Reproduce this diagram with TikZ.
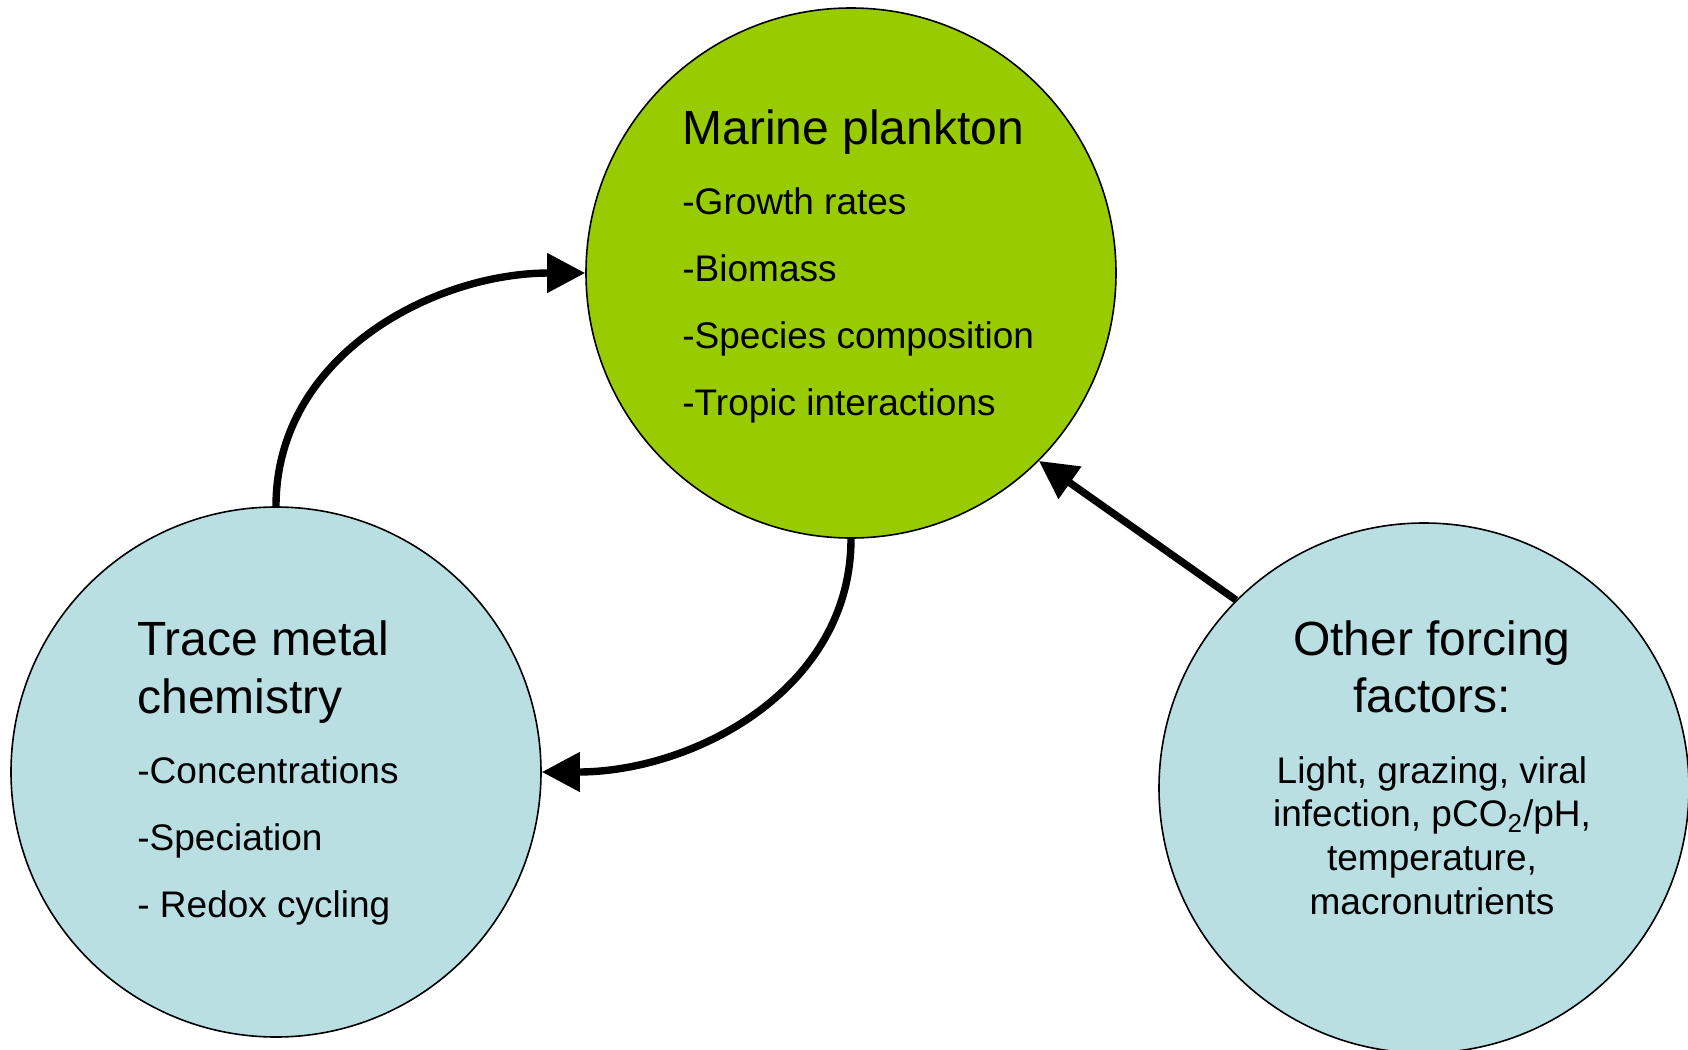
\documentclass[tikz,border=0pt]{standalone}
\usepackage{fontspec}
\setmainfont{Liberation Sans}
\usetikzlibrary{arrows.meta}

\definecolor{planktongreen}{RGB}{153,204,0}
\definecolor{paleblue}{RGB}{185,223,227}

\begin{document}
\begin{tikzpicture}[x=0.5pt,y=0.5pt,
  bubble/.style={circle,draw=black,line width=0.8pt,minimum size=265pt,inner sep=0pt},
  title/.style={inner sep=0pt,font=\fontsize{24}{28}\selectfont},
  item/.style={inner sep=0pt,font=\fontsize{18.5}{22}\selectfont},
  conn/.style={line width=3.7pt,-{Triangle[length=19pt,width=19pt]}}
]
\useasboundingbox (0,0) rectangle (1688,-1050);
\clip (0,0) rectangle (1688,-1050);

% circles
\node[bubble,fill=planktongreen] (plankton) at (851,-273) {};
\node[bubble,fill=paleblue] (metal) at (276,-772) {};
\node[bubble,fill=paleblue] (forcing) at (1424,-788) {};

% marine plankton
\node[title,anchor=base west] (pt) at (682,-144) {Marine plankton};
\node[item,anchor=base west] (p1) at (682,-214) {-Growth rates};
\node[item,anchor=base west] (p2) at (682,-281) {-Biomass};
\node[item,anchor=base west] (p3) at (682,-348) {-Species composition};
\node[item,anchor=base west] (p4) at (682,-415) {-Tropic interactions};

% trace metal chemistry
\node[title,anchor=base west] (mt1) at (137,-655) {Trace metal};
\node[title,anchor=base west] (mt2) at (137,-713) {chemistry};
\node[item,anchor=base west] (m1) at (137,-783) {-Concentrations};
\node[item,anchor=base west] (m2) at (137,-850) {-Speciation};
\node[item,anchor=base west] (m3) at (137,-917) {- Redox cycling};

% other forcing factors
\node[title,anchor=base] (ft1) at (1432,-655) {Other forcing};
\node[title,anchor=base] (ft2) at (1432,-712) {factors:};
\node[item,anchor=base] (f1) at (1432,-783) {Light, grazing, viral};
\node[item,anchor=base] (f2) at (1432,-826) {infection, pCO\textsubscript{2}/pH,};
\node[item,anchor=base] (f3) at (1432,-870) {temperature,};
\node[item,anchor=base] (f4) at (1432,-914) {macronutrients};

% connectors
\draw[conn] (metal.north) to[out=90,in=180] (plankton.west);
\draw[conn] (plankton.south) to[out=-90,in=0] (metal.east);
\draw[conn] (forcing.135) -- (plankton.-45);
\end{tikzpicture}
\end{document}
